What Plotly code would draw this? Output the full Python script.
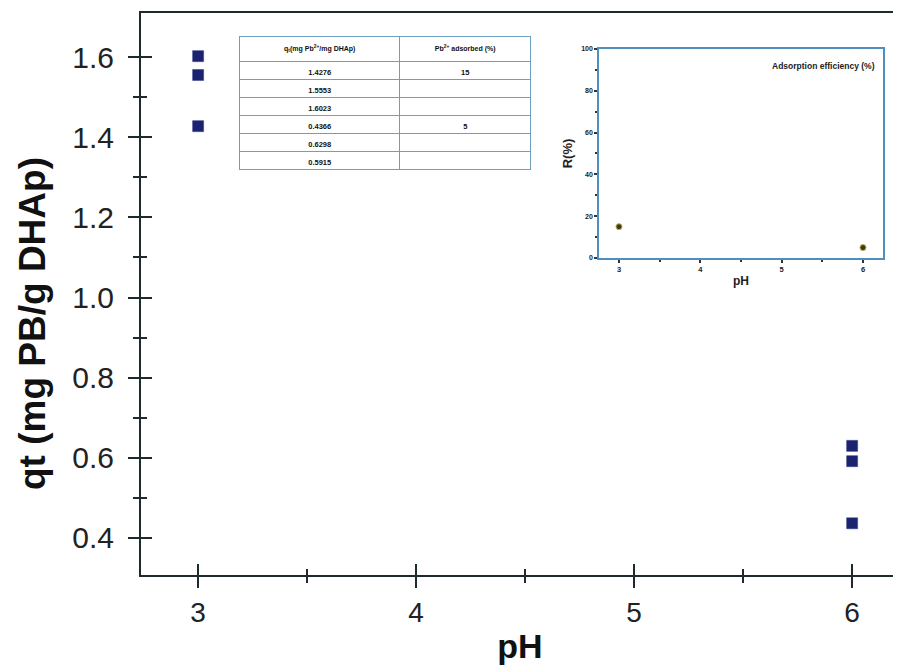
import plotly.graph_objects as go

# ---- data ----
ph_main = [3, 3, 3, 6, 6, 6]
qt_values = [1.4276, 1.5553, 1.6023, 0.4366, 0.6298, 0.5915]
qt_labels = ["1.4276", "1.5553", "1.6023", "0.4366", "0.6298", "0.5915"]
adsorbed_labels = ["15", "", "", "5", "", ""]
ph_inset = [3, 6]
r_values = [15, 5]

y_tickvals = [0.4, 0.6, 0.8, 1.0, 1.2, 1.4, 1.6]
y_ticktext = ["0.4", "0.6", "0.8", "1.0", "1.2", "1.4", "1.6"]
x_tickvals = [3, 4, 5, 6]

FONT = "Arial, Liberation Sans, sans-serif"
AX = "#1d2b2c"

fig = go.Figure()

fig.add_trace(go.Scatter(
    x=ph_main, y=qt_values, mode="markers",
    marker=dict(symbol="square", size=11, color="#1b2270",
                line=dict(color="#2a3a8a", width=0.5)),
    xaxis="x", yaxis="y", showlegend=False))

# overlay axes for crossing ticks (no data)
fig.add_trace(go.Scatter(x=[], y=[], xaxis="x3", yaxis="y3", showlegend=False))

# inset
fig.add_trace(go.Scatter(
    x=ph_inset, y=r_values, mode="markers",
    marker=dict(symbol="circle", size=6, color="#3d3d1c",
                line=dict(color="#c2ab4a", width=1)),
    xaxis="x2", yaxis="y2", showlegend=False))

# table
fig.add_trace(go.Table(
    domain=dict(x=[0.1306, 0.5158], y=[0.70, 0.959]),
    columnwidth=[160, 132],
    header=dict(
        values=["q<sub>t</sub>(mg Pb<sup>2+</sup>/mg DHAp)",
                "Pb<sup>2+</sup> adsorbed (%)"],
        height=24, align="center",
        font=dict(family=FONT, size=7, color="#111", weight="bold"),
        fill_color="white", line=dict(color="#6f9fc0", width=1)),
    cells=dict(
        values=[qt_labels, adsorbed_labels],
        height=18, align="center",
        font=dict(family=FONT, size=7.5, color="#111", weight="bold"),
        fill_color="white", line=dict(color="#6f9fc0", width=1)),
))

fig.update_layout(
    width=893, height=661,
    margin=dict(l=133, r=2, t=5, b=94),
    paper_bgcolor="white", plot_bgcolor="white",
    font=dict(family=FONT, color="#222"),
    xaxis=dict(
        domain=[0, 1], range=[2.738, 6.215], anchor="y",
        tickvals=x_tickvals, ticks="outside", ticklen=11, tickwidth=1.5,
        tickcolor=AX,
        minor=dict(tickvals=[3.5, 4.5, 5.5], ticks="outside", ticklen=6,
                   tickwidth=1.5, tickcolor=AX),
        showline=True, linecolor=AX, linewidth=2, mirror=True,
        showgrid=False, zeroline=False,
        tickfont=dict(size=28, color="#222"),
        title=dict(text="<b>pH</b>", font=dict(size=34, color="#111"), standoff=8),
    ),
    yaxis=dict(
        domain=[0, 1], range=[0.3075, 1.71], anchor="x",
        tickvals=y_tickvals, ticktext=y_ticktext, ticks="outside", ticklen=11,
        tickwidth=1.5, tickcolor=AX, ticklabelstandoff=8,
        minor=dict(tickvals=[0.5, 0.7, 0.9, 1.1, 1.3, 1.5], ticks="outside",
                   ticklen=6, tickwidth=1.5, tickcolor=AX),
        showline=True, linecolor=AX, linewidth=2, mirror=False,
        showgrid=False, zeroline=False,
        tickfont=dict(size=30, color="#222"),
    ),
    xaxis3=dict(
        overlaying="x", matches="x", anchor="y3", range=[2.738, 6.215],
        tickvals=x_tickvals, ticks="inside", ticklen=11, tickwidth=1.5, tickcolor=AX,
        minor=dict(tickvals=[3.5, 4.5, 5.5], ticks="inside", ticklen=6,
                   tickwidth=1.5, tickcolor=AX),
        showticklabels=False, showline=False, showgrid=False, zeroline=False,
    ),
    yaxis3=dict(
        overlaying="y", matches="y", anchor="x3", range=[0.3075, 1.71],
        tickvals=y_tickvals, ticks="inside", ticklen=11, tickwidth=1.5, tickcolor=AX,
        minor=dict(tickvals=[0.5, 0.7, 0.9, 1.1, 1.3, 1.5], ticks="inside",
                   ticklen=6, tickwidth=1.5, tickcolor=AX),
        showticklabels=False, showline=False, showgrid=False, zeroline=False,
    ),
    xaxis2=dict(
        domain=[0.6042, 0.9789], range=[2.754, 6.246], anchor="y2",
        tickvals=x_tickvals,
        ticks="outside", ticklen=3, tickwidth=1.5, tickcolor="#333",
        minor=dict(tickvals=[3.5, 4.5, 5.5], ticks="outside", ticklen=2,
                   tickcolor="#333"),
        showline=True, linecolor="#4f8fc0", linewidth=1.5, mirror=True,
        showgrid=False, zeroline=False,
        tickfont=dict(size=7.5, color="#222", weight="bold"),
        title=dict(text="<b>pH</b>", font=dict(size=12, color="#222"), standoff=4),
    ),
    yaxis2=dict(
        domain=[0.564, 0.936], range=[0, 100], anchor="x2",
        tickvals=[0, 20, 40, 60, 80, 100],
        ticks="outside", ticklen=3, tickwidth=1.5, tickcolor="#333",
        minor=dict(tickvals=[10, 30, 50, 70, 90], ticks="outside", ticklen=2,
                   tickcolor="#333"),
        showline=True, linecolor="#4f8fc0", linewidth=1.5, mirror=True,
        showgrid=False, zeroline=False,
        tickfont=dict(size=7, color="#222", weight="bold"),
        title=dict(text="<b>R(%)</b>", font=dict(size=13, color="#222"), standoff=6),
    ),
    annotations=[
        dict(text="<b>Adsorption efficiency (%)</b>", xref="x2 domain", yref="y2 domain",
             x=0.98, y=0.95, xanchor="right", yanchor="top", showarrow=False,
             font=dict(size=8.5, color="#222")),
        dict(text="<b>qt (mg PB/g DHAp)</b>", xref="paper", yref="paper",
             x=-0.1425, y=0.4484, xanchor="center", yanchor="middle",
             textangle=-90, showarrow=False, font=dict(size=37, color="#111")),
    ],
)

fig.write_html("out.html")
